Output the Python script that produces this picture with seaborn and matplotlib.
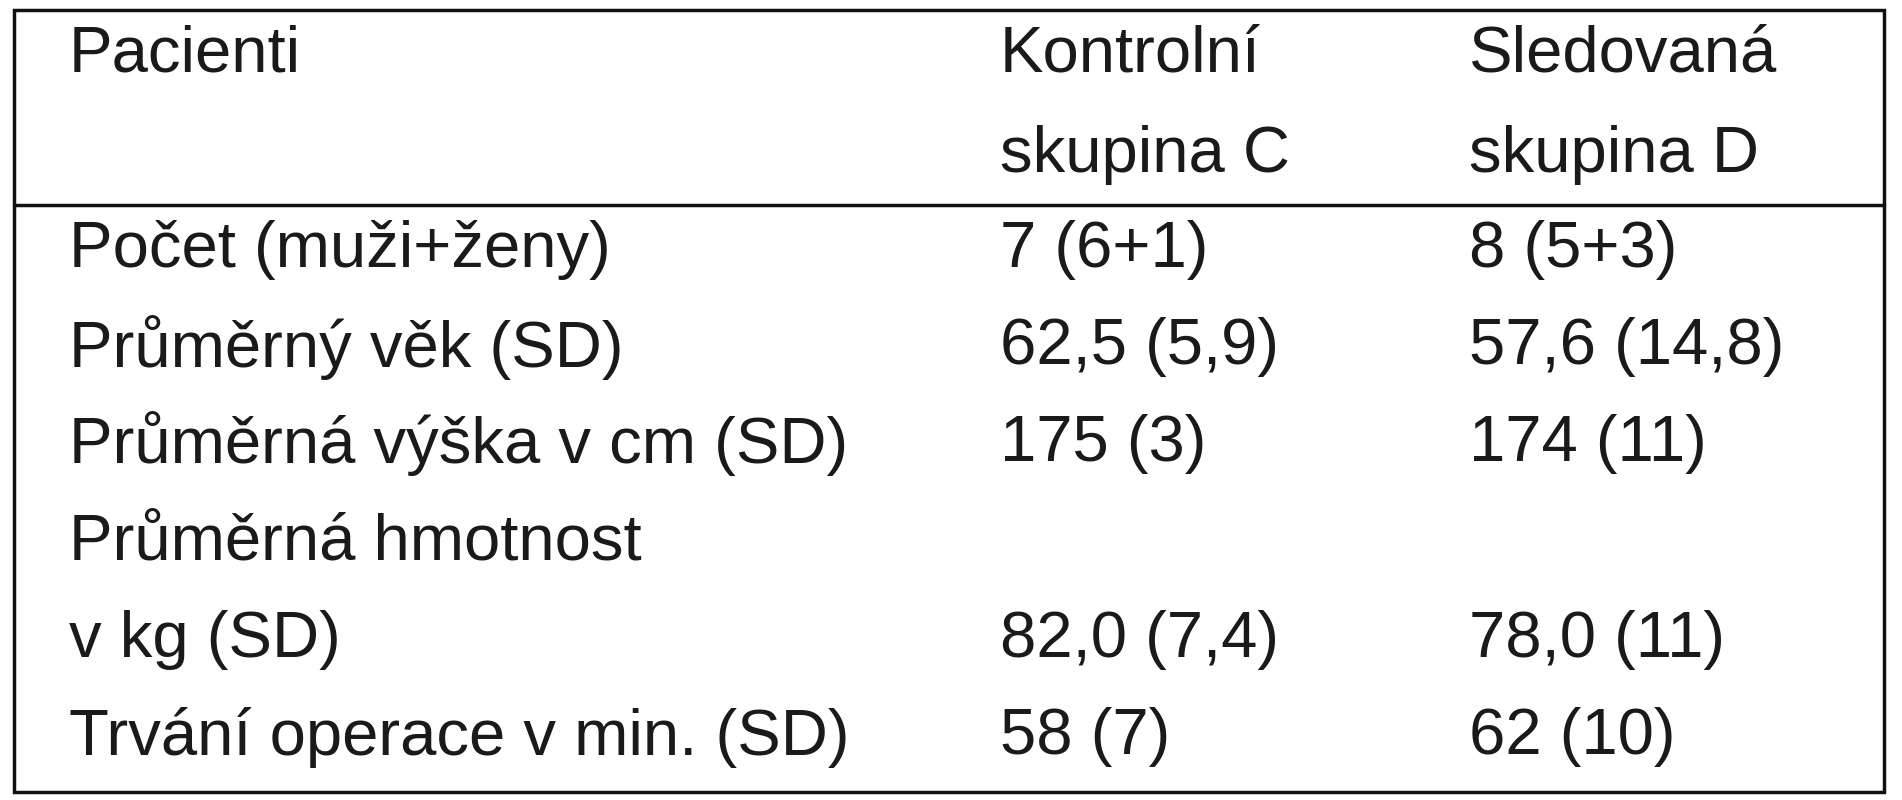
import matplotlib.pyplot as plt
import seaborn as sns
from matplotlib.patches import Rectangle

sns.set_theme(style="white")
plt.rcParams['font.family'] = ['Liberation Sans', 'DejaVu Sans']

# table content
header = ["Pacienti", "Kontrolní\nskupina C", "Sledovaná\nskupina D"]
row_labels = ["Počet (muži+ženy)", "Průměrný věk (SD)", "Průměrná výška v cm (SD)",
              "Průměrná hmotnost\nv kg (SD)", "Trvání operace v min. (SD)"]
group_c = ["7 (6+1)", "62,5 (5,9)", "175 (3)", "82,0 (7,4)", "58 (7)"]
group_d = ["8 (5+3)", "57,6 (14,8)", "174 (11)", "78,0 (11)", "62 (10)"]

W, H = 1902, 800
fig = plt.figure(figsize=(19.02, 8.0), dpi=100)
ax = fig.add_axes([0, 0, 1, 1])
ax.set_xlim(0, W)
ax.set_ylim(H, 0)
ax.axis("off")

fs = 47
col_x = [69, 1000, 1469]
ax.add_patch(Rectangle((14, 10), 1870, 782, fill=False, edgecolor="#111111", lw=2.5))
ax.plot([14, 1884], [205, 205], color="#111111", lw=2.5)

line_gap = 97
ax.text(col_x[0], 55, header[0], fontsize=fs, va="center", color="#1a1a1a")
for x, h in zip(col_x[1:], header[1:]):
    top, bottom = h.split("\n")
    ax.text(x, 55, top, fontsize=fs, va="center", color="#1a1a1a")
    ax.text(x, 155, bottom, fontsize=fs, va="center", color="#1a1a1a")

ys = [250, 347, 444, 640, 737]
for y, lab, c, d in zip(ys, row_labels, group_c, group_d):
    if "\n" in lab:
        first, second = lab.split("\n")
        ax.text(col_x[0], y - line_gap, first, fontsize=fs, va="center", color="#1a1a1a")
        ax.text(col_x[0], y, second, fontsize=fs, va="center", color="#1a1a1a")
    else:
        ax.text(col_x[0], y, lab, fontsize=fs, va="center", color="#1a1a1a")
    ax.text(col_x[1], y, c, fontsize=fs, va="center", color="#1a1a1a")
    ax.text(col_x[2], y, d, fontsize=fs, va="center", color="#1a1a1a")

fig.savefig("out.png", dpi=100)
